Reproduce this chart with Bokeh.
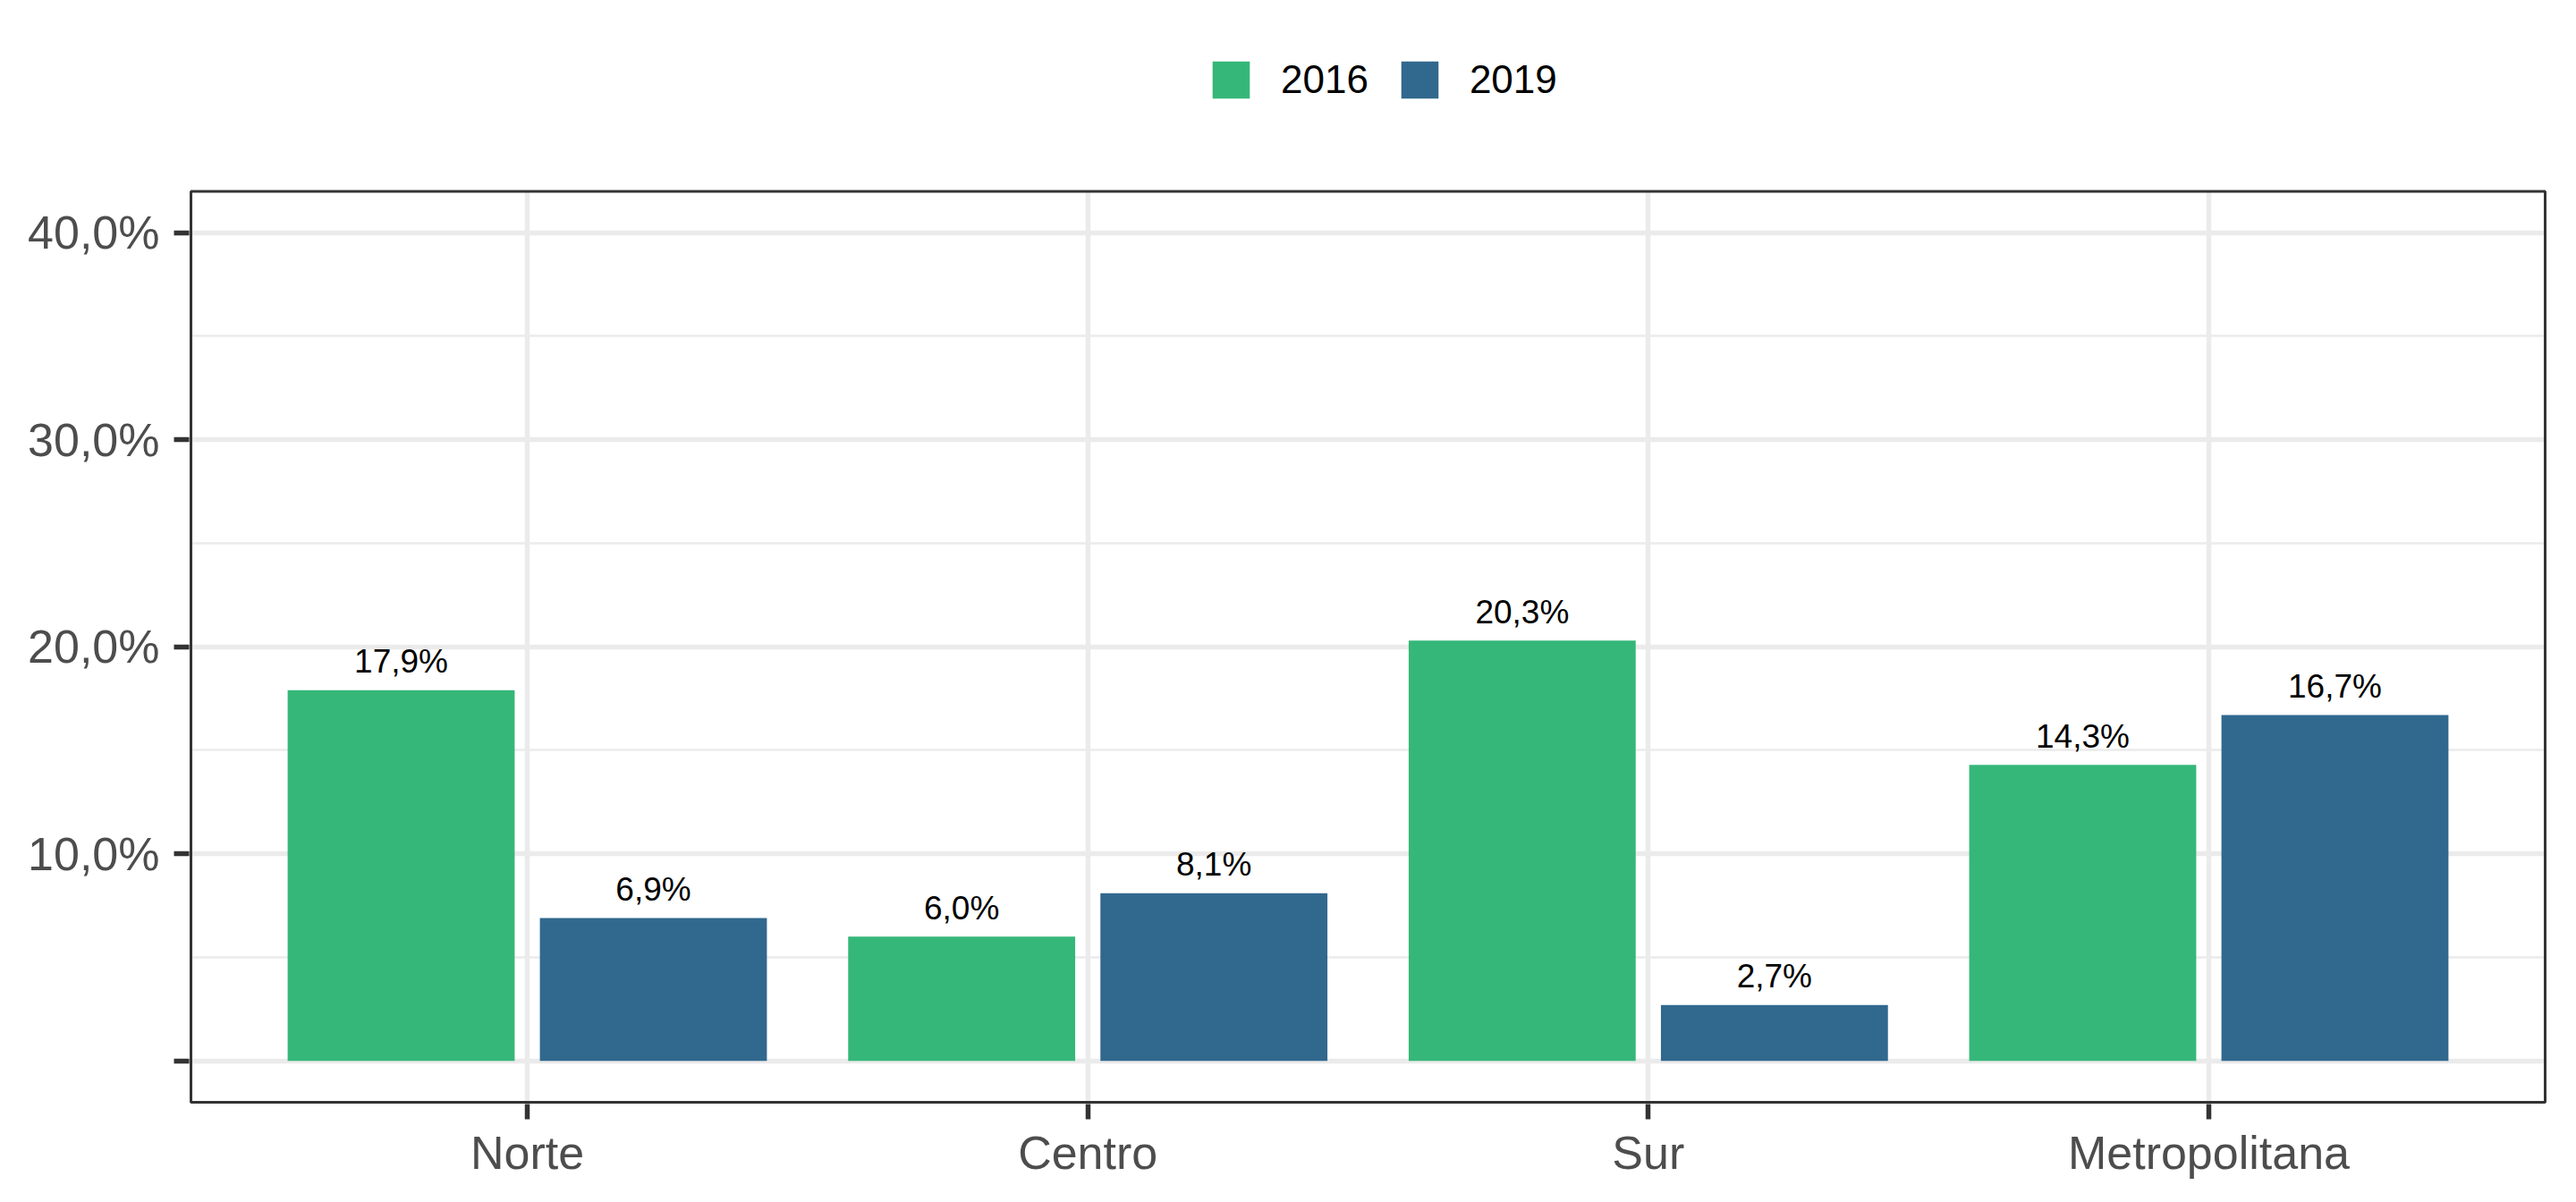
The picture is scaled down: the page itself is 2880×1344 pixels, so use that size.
from bokeh.plotting import figure
from bokeh.models import (ColumnDataSource, FixedTicker, Legend, LegendItem, Range1d, BoxAnnotation)
from bokeh.transform import dodge
from bokeh.core.properties import value
from bokeh.embed import file_html
from bokeh.resources import INLINE

# ---- data ----
regions = ["Norte", "Centro", "Sur", "Metropolitana"]
v2016 = [17.9, 6.0, 20.3, 14.3]
v2019 = [6.9, 8.1, 2.7, 16.7]
y_ticks = [0, 10, 20, 30, 40]
y_tick_labels = ["", "10,0%", "20,0%", "30,0%", "40,0%"]
y_minor = [5, 15, 25, 35]

C2016 = "#35B779"
C2019 = "#31688E"
FONT = "Liberation Sans"

# panel limits (data units); the frame is a hair larger so the border is not clipped,
# and extends upward to leave room for the legend
X0, X1 = 0.4, 4.6
Y0, Y1 = -2, 42
PAD_X = 0.0032
PAD_Y = 0.0864
Y_TOP = 51.22


def fmt(v):
    return f"{v:.1f}".replace(".", ",") + "%"


pos = [i + 1 for i in range(len(regions))]
src = ColumnDataSource(dict(
    x=pos, v2016=v2016, v2019=v2019,
    l2016=[fmt(v) for v in v2016], l2019=[fmt(v) for v in v2019],
))

p = figure(width=2880, height=1344, output_backend="svg", toolbar_location=None,
           x_range=Range1d(X0 - PAD_X, X1 + PAD_X), y_range=Range1d(Y0 - PAD_Y, Y_TOP),
           min_border_left=211, min_border_right=33,
           min_border_top=0, min_border_bottom=110)

p.background_fill_color = "white"
p.border_fill_color = "white"
p.outline_line_color = None

r16 = p.vbar(x=dodge("x", -0.225, range=p.x_range), top="v2016", bottom=0, width=0.405,
             source=src, fill_color=C2016, line_color=None)
r19 = p.vbar(x=dodge("x", 0.225, range=p.x_range), top="v2019", bottom=0, width=0.405,
             source=src, fill_color=C2019, line_color=None)

for col, lab, off in (("v2016", "l2016", -0.225), ("v2019", "l2019", 0.225)):
    p.text(x=dodge("x", off, range=p.x_range), y=col, text=lab, source=src,
           text_font=value(FONT), text_font_size="37px", text_color="black",
           text_align="center", text_baseline="alphabetic", y_offset=-32)

# axes
p.xaxis.ticker = FixedTicker(ticks=pos)
p.xaxis.major_label_overrides = {k: r for k, r in zip(pos, regions)}
p.yaxis.ticker = FixedTicker(ticks=y_ticks, minor_ticks=y_minor)
p.yaxis.major_label_overrides = {k: l for k, l in zip(y_ticks, y_tick_labels)}

for ax in (p.xaxis[0], p.yaxis[0]):
    ax.axis_line_color = None
    ax.major_tick_line_color = "#333333"
    ax.major_tick_line_width = 5.5
    ax.major_tick_out = 17
    ax.major_tick_in = 0
    ax.minor_tick_line_color = None
    ax.major_label_text_font = FONT
    ax.major_label_text_font_size = "52px"
    ax.major_label_text_color = "#4D4D4D"

p.xaxis.major_label_standoff = 8
p.yaxis.major_label_standoff = 16

# grid
p.xgrid.ticker = FixedTicker(ticks=pos)
p.xgrid.grid_line_color = "#EBEBEB"
p.xgrid.grid_line_width = 5.5
p.ygrid.grid_line_color = "#EBEBEB"
p.ygrid.grid_line_width = 5.5
p.ygrid.minor_grid_line_color = "#EBEBEB"
p.ygrid.minor_grid_line_width = 2.7

# white band above the panel (hides grid lines there), then the panel border
p.add_layout(BoxAnnotation(bottom=Y1, fill_color="white", fill_alpha=1, line_color=None))
p.add_layout(BoxAnnotation(left=X0, right=X1, bottom=Y0, top=Y1, fill_alpha=0,
                           line_color="#333333", line_width=3, line_alpha=1))

# legend
legend = Legend(items=[LegendItem(label="2016", renderers=[r16]),
                       LegendItem(label="2019", renderers=[r19])],
                orientation="horizontal", location=(1139, 1119),
                glyph_width=52, glyph_height=52, label_height=42,
                label_standoff=30, spacing=31,
                padding=0, margin=0, border_line_color=None, background_fill_alpha=0,
                label_text_font=FONT, label_text_font_size="44px", label_text_color="black")
p.add_layout(legend, "center")

open("out.html", "w").write(file_html(p, INLINE))
